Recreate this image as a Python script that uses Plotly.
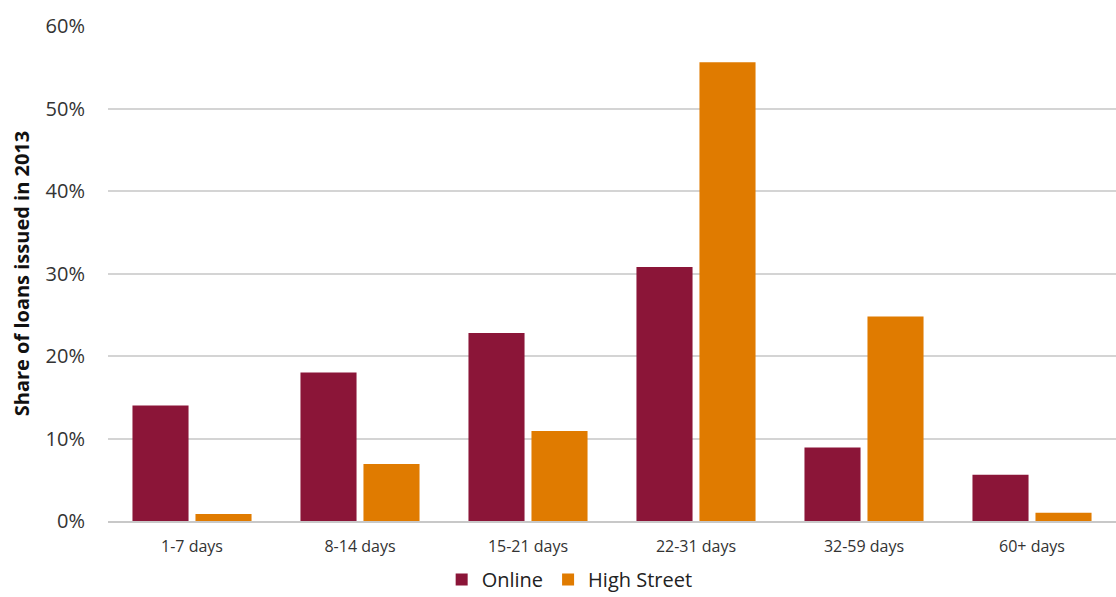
import plotly.graph_objects as go

categories = ["1-7 days", "8-14 days", "15-21 days", "22-31 days", "32-59 days", "60+ days"]
online = [14.0, 18.0, 22.8, 30.8, 8.9, 5.6]
high_street = [0.85, 6.9, 10.9, 55.6, 24.8, 1.0]
y_ticks = [0, 10, 20, 30, 40, 50, 60]
y_tick_labels = ["0%", "10%", "20%", "30%", "40%", "50%", "60%"]

FONT = "Open Sans, Liberation Sans, sans-serif"

fig = go.Figure()
fig.add_bar(x=categories, y=online, name="Online",
            marker=dict(color="#8B1538", line=dict(width=0)))
fig.add_bar(x=categories, y=high_street, name="High Street",
            marker=dict(color="#E07B00", line=dict(width=0)))

fig.update_layout(
    width=1116, height=597,
    margin=dict(l=108, r=0, t=26, b=76, autoexpand=False),
    paper_bgcolor="white", plot_bgcolor="white",
    barmode="group", bargap=0.25, bargroupgap=0.11,
    font=dict(family=FONT, color="#333333"),
    legend=dict(orientation="h", x=0.458, xanchor="center",
                y=-0.118, yanchor="middle",
                font=dict(size=20, color="#222222"), traceorder="normal",
                itemwidth=30),
    xaxis=dict(showgrid=False, showline=True, linecolor="#c8c8c8", linewidth=2,
               ticks="", ticklabelstandoff=10,
               tickfont=dict(size=16, color="#333333")),
    yaxis=dict(range=[0, 60], tickvals=y_ticks, ticktext=y_tick_labels,
               showgrid=True, gridcolor="#d4d4d4", gridwidth=2,
               zeroline=False, showline=False, ticks="", ticklen=0,
               ticklabelstandoff=22,
               tickfont=dict(size=20, color="#333333"),
               title=dict(text="<b>Share of loans issued in 2013</b>",
                          font=dict(size=20, color="#111111"), standoff=10)),
)

fig.write_html("out.html")
